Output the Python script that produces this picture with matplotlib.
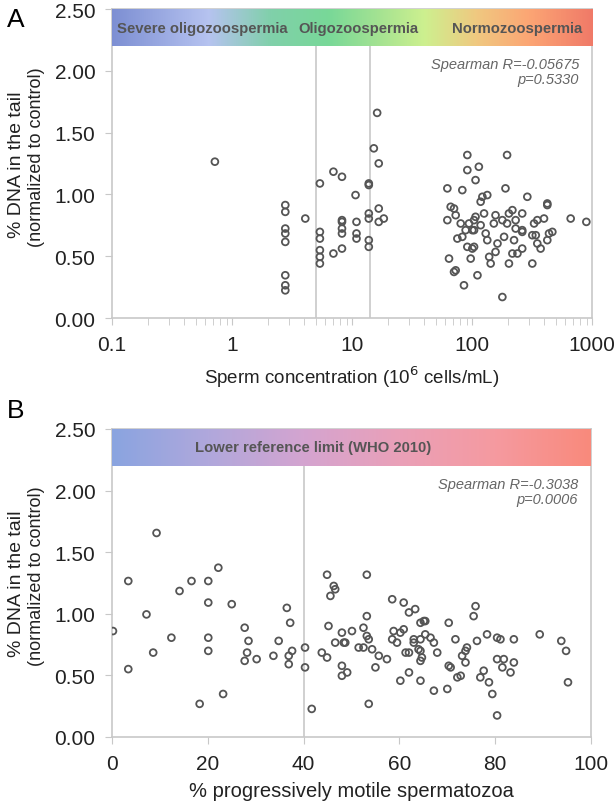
import numpy as np
import matplotlib
matplotlib.use("Agg")
import matplotlib.pyplot as plt
from matplotlib.colors import LinearSegmentedColormap
from matplotlib.ticker import FixedLocator, FixedFormatter, NullFormatter

plt.rcParams['font.family'] = ['Liberation Sans', 'DejaVu Sans']

# panel A: sperm concentration (10^6/mL) vs normalized % tail DNA
conc = [0.72, 16.2, 15.2, 16.7, 7.0, 8.25, 5.4, 13.8, 13.8, 10.7,
        2.78, 2.78, 4.08, 16.7, 13.8, 13.8, 18.4, 16.7, 8.25, 8.25,
        10.9, 8.25, 8.25, 10.9, 10.9, 5.4, 5.4, 2.78, 2.78, 2.78,
        13.8, 13.8, 8.25, 7.0, 5.4, 5.4, 5.4, 2.78, 2.78, 2.78,
        91.4, 196, 91.4, 114, 107, 62.3, 83.0, 190, 118, 122,
        134, 289, 66.4, 70.8, 73.1, 62.3, 80.5, 94.4, 104, 107,
        118, 126, 157, 152, 179, 196, 203, 217, 231, 262,
        231, 262, 262, 329, 350, 398, 424, 424, 664, 897,
        88.5, 100.6, 104, 83.0, 75.5, 130, 134, 185, 224, 318,
        340, 438, 467, 424, 163, 350, 373, 91.4, 100.6, 104,
        157, 139, 143, 217, 239, 262, 64.3, 97.5, 203, 318,
        70.8, 73.1, 111, 85.7, 179]
dna_a = [1.265, 1.66, 1.373, 1.251, 1.184, 1.143, 1.089, 1.089, 1.076, 0.995,
         0.914, 0.859, 0.805, 0.886, 0.846, 0.805, 0.805, 0.778, 0.792, 0.778,
         0.778, 0.724, 0.684, 0.684, 0.643, 0.697, 0.643, 0.724, 0.684, 0.616,
         0.630, 0.576, 0.562, 0.522, 0.549, 0.495, 0.441, 0.346, 0.265, 0.224,
         1.319, 1.319, 1.197, 1.224, 1.116, 1.049, 1.035, 1.049, 0.941, 0.981,
         0.995, 0.981, 0.900, 0.886, 0.832, 0.792, 0.765, 0.765, 0.792, 0.819,
         0.751, 0.846, 0.832, 0.765, 0.792, 0.765, 0.846, 0.873, 0.792, 0.846,
         0.724, 0.711, 0.697, 0.765, 0.792, 0.805, 0.927, 0.914, 0.805, 0.778,
         0.711, 0.711, 0.711, 0.657, 0.643, 0.684, 0.630, 0.657, 0.630, 0.670,
         0.670, 0.684, 0.697, 0.630, 0.603, 0.603, 0.562, 0.576, 0.562, 0.576,
         0.535, 0.495, 0.441, 0.522, 0.522, 0.562, 0.481, 0.481, 0.441, 0.441,
         0.373, 0.386, 0.346, 0.265, 0.170]

# panel B: % progressively motile vs normalized % tail DNA
motile = [9.3, 3.4, 16.6, 20.1, 22.2, 14.1, 20.1, 25.0, 7.2, 0.2,
          12.4, 20.1, 8.6, 20.1, 3.4, 18.3, 23.2, 27.7, 28.5, 28.2,
          27.7, 30.2, 33.7, 34.8, 36.5, 37.2, 37.6, 36.9, 36.9, 40.3,
          40.3, 41.7, 43.8, 44.9, 44.9, 46.3, 46.6, 45.6, 45.2, 46.6,
          48.0, 48.4, 48.7, 50.1, 48.0, 49.1, 48.0, 51.5, 52.5, 52.5,
          53.2, 53.6, 53.2, 53.2, 54.3, 53.6, 55.0, 55.7, 57.4, 58.5,
          58.8, 58.5, 59.5, 60.2, 60.9, 60.9, 60.2, 61.3, 62.0, 62.0,
          62.0, 63.3, 63.0, 63.0, 64.4, 65.1, 65.4, 64.4, 64.0, 64.4,
          64.7, 64.4, 64.4, 65.4, 66.5, 67.2, 67.9, 67.2, 70.0, 70.3,
          70.3, 70.7, 71.7, 72.1, 72.8, 73.1, 73.8, 74.1, 73.8, 75.5,
          75.9, 76.2, 76.9, 77.6, 78.3, 78.7, 79.4, 80.4, 81.1, 80.4,
          81.8, 81.5, 83.2, 83.9, 83.9, 80.4, 89.3, 93.8, 94.8, 95.2]
dna_b = [1.656, 1.266, 1.266, 1.266, 1.374, 1.185, 1.091, 1.078, 0.995, 0.860,
         0.806, 0.806, 0.685, 0.699, 0.551, 0.269, 0.349, 0.887, 0.780, 0.685,
         0.618, 0.632, 0.659, 0.780, 1.048, 0.927, 0.699, 0.659, 0.591, 0.726,
         0.565, 0.228, 0.685, 0.645, 1.317, 1.226, 1.199, 1.145, 0.901, 0.766,
         0.847, 0.766, 0.766, 0.860, 0.578, 0.524, 0.497, 0.726, 0.726, 0.887,
         0.820, 0.793, 0.981, 1.317, 0.712, 0.269, 0.565, 0.659, 0.632, 1.118,
         0.860, 0.793, 0.766, 0.847, 0.874, 1.091, 0.457, 0.685, 0.685, 0.524,
         1.011, 1.038, 0.793, 0.766, 0.927, 0.941, 0.941, 0.793, 0.712, 0.699,
         0.645, 0.618, 0.457, 0.833, 0.806, 0.766, 0.685, 0.376, 0.390, 0.927,
         0.578, 0.565, 0.793, 0.484, 0.497, 0.659, 0.699, 0.726, 0.605, 0.981,
         1.062, 0.780, 0.484, 0.538, 0.833, 0.444, 0.349, 0.806, 0.793, 0.632,
         0.632, 0.565, 0.524, 0.793, 0.605, 0.175, 0.833, 0.780, 0.699, 0.444]

conc_cuts = [5, 14]
motile_cut = [40]
yticks = [0, 0.5, 1.0, 1.5, 2.0, 2.5]

band_a = [(0.0, '#7d8fd3'), (0.2, '#b6c3f0'), (0.33, '#80d0aa'), (0.45, '#78d898'),
          (0.55, '#a2e292'), (0.65, '#cdf08f'), (0.76, '#f0c880'), (0.87, '#fca574'),
          (1.0, '#f07a68')]
band_b = [(0.0, '#8aa4e0'), (0.2, '#b0a8dc'), (0.4, '#d4a4d0'), (0.6, '#eaa0b8'),
          (0.8, '#f59aa0'), (1.0, '#f98a7c')]

GRID = '#c8c8c8'
TXT = '#555555'
INK = '#222222'

fig = plt.figure(figsize=(6.14, 8.04), dpi=100)
axA = fig.add_axes([0.1824, 0.6032, 0.7818, 0.3843])
axB = fig.add_axes([0.1824, 0.0821, 0.7801, 0.3831])


def style(ax, ymid):
    for s in ax.spines.values():
        s.set_color(GRID)
        s.set_linewidth(1.2)
    ax.tick_params(axis='both', which='both', direction='out', color=GRID,
                   labelsize=15, labelcolor=INK, length=5)
    ax.tick_params(axis='y', pad=7)
    ax.tick_params(axis='x', pad=7)
    ax.set_yticks(yticks)
    ax.set_yticklabels(['%.2f' % v for v in yticks])
    fig.text(17 / 614, 1 - ymid / 804, '% DNA in the tail', rotation=90,
             fontsize=14, color=INK, ha='center', va='center')
    fig.text(37 / 614, 1 - (ymid - 8) / 804, '(normalized to control)', rotation=90,
             fontsize=13, color=INK, ha='center', va='center')


def band(ax, stops):
    cmap = LinearSegmentedColormap.from_list('band', stops)
    grad = np.linspace(0, 1, 512)[None, :]
    ax.imshow(grad, cmap=cmap, aspect='auto', extent=(0, 1, 0.88, 1.0),
              transform=ax.transAxes, zorder=4, interpolation='bilinear')


# ---- panel A
style(axA, 165)
axA.set_xscale('log')
for c in conc_cuts:
    axA.axvline(c, color=GRID, lw=1.2, zorder=1)
axA.scatter(conc, dna_a, s=24, facecolors='none', edgecolors='#555555',
            linewidths=1.3, zorder=3)
band(axA, band_a)
axA.set_xlim(0.1, 1000)
axA.set_ylim(0, 2.5)
axA.xaxis.set_major_locator(FixedLocator([0.1, 1, 10, 100, 1000]))
axA.xaxis.set_major_formatter(FixedFormatter(['0.1', '1', '10', '100', '1000']))
axA.xaxis.set_minor_formatter(NullFormatter())
axA.set_xlabel('Sperm concentration (10$^6$ cells/mL)', fontsize=13.5, color=INK,
               labelpad=7)
axA.text(0.01, 0.94, 'Severe oligozoospermia', transform=axA.transAxes, fontsize=10.7,
         fontweight='bold', color=TXT, ha='left', va='center', zorder=5)
axA.text(0.388, 0.94, 'Oligozoospermia', transform=axA.transAxes, fontsize=10.7,
         fontweight='bold', color=TXT, ha='left', va='center', zorder=5)
axA.text(0.98, 0.94, 'Normozoospermia', transform=axA.transAxes, fontsize=10.7,
         fontweight='bold', color=TXT, ha='right', va='center', zorder=5)
axA.text(0.973, 0.845, 'Spearman R=-0.05675\np=0.5330', transform=axA.transAxes,
         fontsize=10.5, style='italic', color='#666666', ha='right', va='top',
         linespacing=1.1)

# ---- panel B
style(axB, 584)
for c in motile_cut:
    axB.axvline(c, color=GRID, lw=1.2, zorder=1)
axB.scatter(motile, dna_b, s=24, facecolors='none', edgecolors='#555555',
            linewidths=1.3, zorder=3)
band(axB, band_b)
axB.set_xlim(0, 100)
axB.set_ylim(0, 2.5)
axB.set_xticks([0, 20, 40, 60, 80, 100])
axB.set_xlabel('% progressively motile spermatozoa', fontsize=14.5, color=INK,
               labelpad=6)
axB.text(0.42, 0.94, 'Lower reference limit (WHO 2010)', transform=axB.transAxes,
         fontsize=10.7, fontweight='bold', color=TXT, ha='center', va='center', zorder=5)
axB.text(0.973, 0.845, 'Spearman R=-0.3038\np=0.0006', transform=axB.transAxes,
         fontsize=10.5, style='italic', color='#666666', ha='right', va='top',
         linespacing=1.1)

fig.text(0.012, 0.99, 'A', fontsize=19, va='top', ha='left')
fig.text(0.012, 0.504, 'B', fontsize=19, va='top', ha='left')

fig.savefig('out.png', dpi=100)
